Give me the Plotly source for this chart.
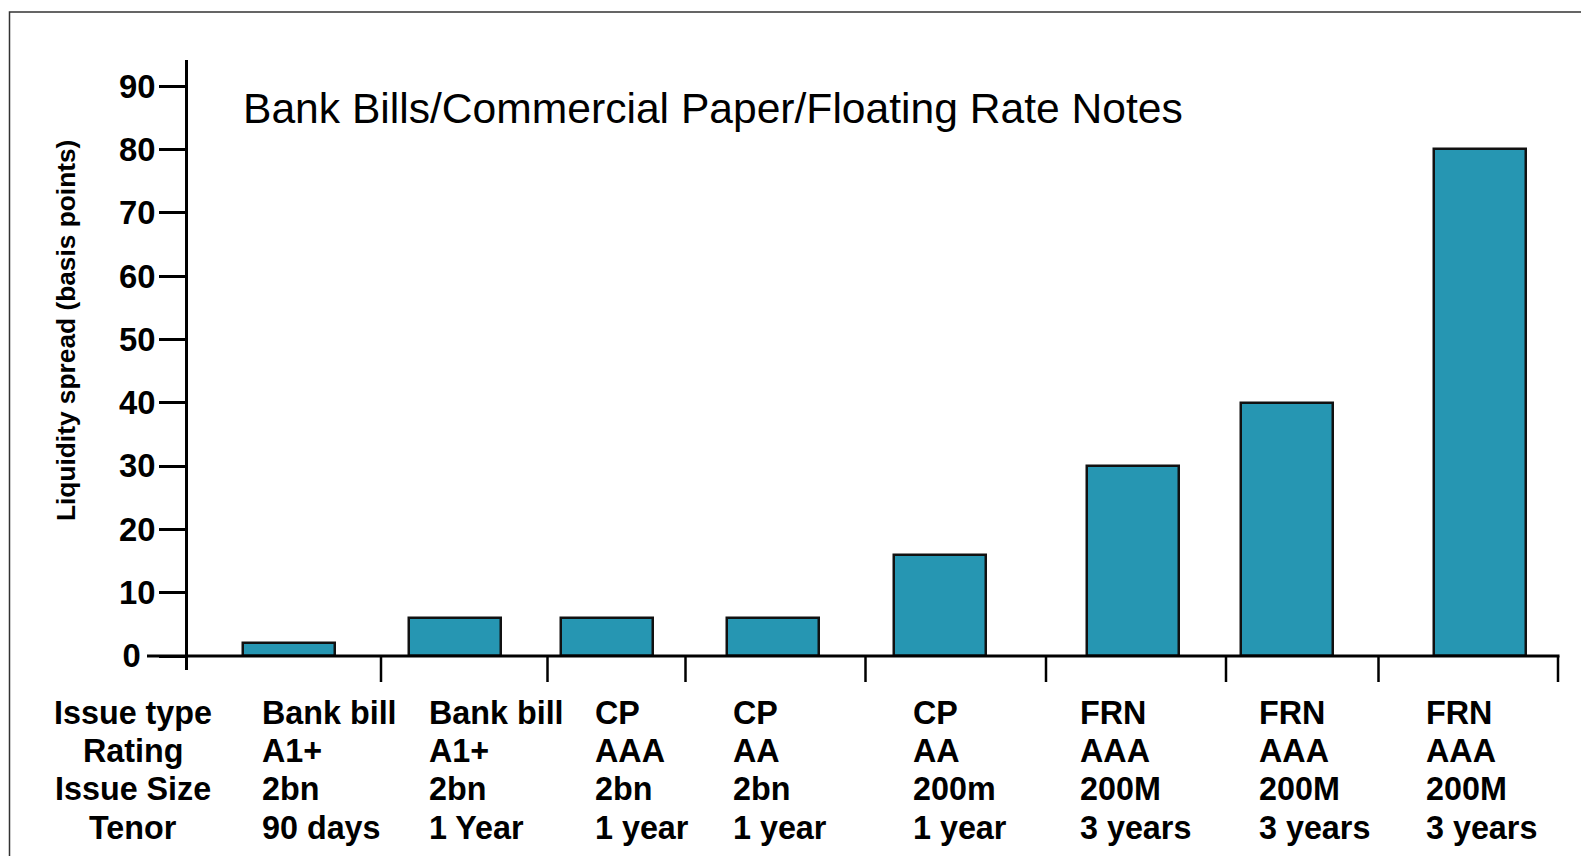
import plotly.graph_objects as go

# ---------------- data ----------------
issue_type = ["Bank bill", "Bank bill", "CP", "CP", "CP", "FRN", "FRN", "FRN"]
rating = ["A1+", "A1+", "AAA", "AA", "AA", "AAA", "AAA", "AAA"]
issue_size = ["2bn", "2bn", "2bn", "2bn", "200m", "200M", "200M", "200M"]
tenor = ["90 days", "1 Year", "1 year", "1 year", "1 year", "3 years", "3 years", "3 years"]
spread_bp = [2, 6, 6, 6, 16, 30, 40, 80]
row_labels = ["Issue type", "Rating", "Issue Size", "Tenor"]
y_tick_values = [0, 10, 20, 30, 40, 50, 60, 70, 80, 90]
chart_title = "Bank Bills/Commercial Paper/Floating Rate Notes"
y_title = "Liquidity spread (basis points)"

# ---------------- layout geometry (pixels) ----------------
W, H = 1581, 856
ML, MR, MT, MB = 188, 23, 60, 186
PW, PH = W - ML - MR, H - MT - MB
ZERO_PX = 656.0
PX_PER_UNIT = 6.333
Y_MIN = -(H - MB - ZERO_PX) / PX_PER_UNIT
Y_MAX = (ZERO_PX - MT) / PX_PER_UNIT

bar_centres = [288.9, 454.7, 607.0, 773.4, 939.7, 1133.4, 1286.5, 1480.3]
bar_width = 92
label_left = [259.5, 427, 592.5, 730.5, 911, 1077.5, 1257, 1423.5]
separators = [381, 547.5, 685.5, 865.5, 1046, 1226, 1378.5, 1558]
row_y = [712.5, 751.0, 789.3, 827.6]
row_label_x = 133

FONT = "Arial, 'Liberation Sans', sans-serif"
TEAL = "rgb(38,150,178)"
LABEL_SIZE = 32.3


def px_x(p):
    return (p - ML) / PW


def px_y(p):
    return (H - MB - p) / PH


fig = go.Figure()
fig.add_trace(go.Bar(
    x=bar_centres,
    y=spread_bp,
    width=bar_width,
    marker=dict(color=TEAL, line=dict(color="#111111", width=2.5)),
    hoverinfo="y",
    showlegend=False,
))

tick_text = [("0\u00a0\u2006" if v == 0 else str(v)) for v in y_tick_values]

shapes = []
# outer frame
shapes.append(dict(type="rect", xref="paper", yref="paper",
                   x0=px_x(9.5), x1=px_x(1620), y0=px_y(12), y1=px_y(900),
                   line=dict(color="#333333", width=1.5), fillcolor="rgba(0,0,0,0)",
                   layer="below"))
# x axis baseline
shapes.append(dict(type="line", xref="paper", yref="y",
                   x0=px_x(147), x1=px_x(1559.5), y0=0, y1=0,
                   line=dict(color="black", width=3)))
# category separators
for s in separators:
    shapes.append(dict(type="line", xref="paper", yref="paper",
                       x0=px_x(s), x1=px_x(s), y0=px_y(ZERO_PX), y1=px_y(682),
                       line=dict(color="black", width=2.5)))

annotations = []
annotations.append(dict(text=chart_title, xref="paper", yref="paper",
                        x=px_x(241), y=px_y(107.5), xanchor="left", yanchor="middle",
                        showarrow=False, font=dict(family=FONT, size=42.6, color="black")))
annotations.append(dict(text=y_title, xref="paper", yref="paper",
                        x=px_x(66), y=px_y(331), xanchor="center", yanchor="middle",
                        textangle=-90, showarrow=False,
                        font=dict(family=FONT, size=26.3, color="black", weight="bold")))
for r, lab in enumerate(row_labels):
    annotations.append(dict(text=lab, xref="paper", yref="paper",
                            x=px_x(row_label_x), y=px_y(row_y[r]), xanchor="center",
                            yanchor="middle", showarrow=False,
                            font=dict(family=FONT, size=LABEL_SIZE, color="black", weight="bold")))
rows = [issue_type, rating, issue_size, tenor]
for i in range(len(spread_bp)):
    for r, row in enumerate(rows):
        annotations.append(dict(text=row[i], xref="paper", yref="paper",
                                x=px_x(label_left[i]), y=px_y(row_y[r]), xanchor="left",
                                yanchor="middle", showarrow=False,
                                font=dict(family=FONT, size=LABEL_SIZE, color="black", weight="bold")))

fig.update_layout(
    width=W, height=H,
    margin=dict(l=ML, r=MR, t=MT, b=MB, pad=0),
    paper_bgcolor="white", plot_bgcolor="white",
    bargap=0,
    xaxis=dict(range=[ML, W - MR], visible=False, fixedrange=True),
    yaxis=dict(range=[Y_MIN, Y_MAX], showgrid=False, zeroline=False,
               showline=True, linecolor="black", linewidth=3,
               ticks="outside", ticklen=26, tickwidth=2.5, tickcolor="black",
               tickvals=y_tick_values, ticktext=tick_text,
               ticklabelstandoff=-3,
               tickfont=dict(family=FONT, size=32.8, color="black", weight="bold"),
               fixedrange=True),
    shapes=shapes,
    annotations=annotations,
)

fig.write_html("out.html")
